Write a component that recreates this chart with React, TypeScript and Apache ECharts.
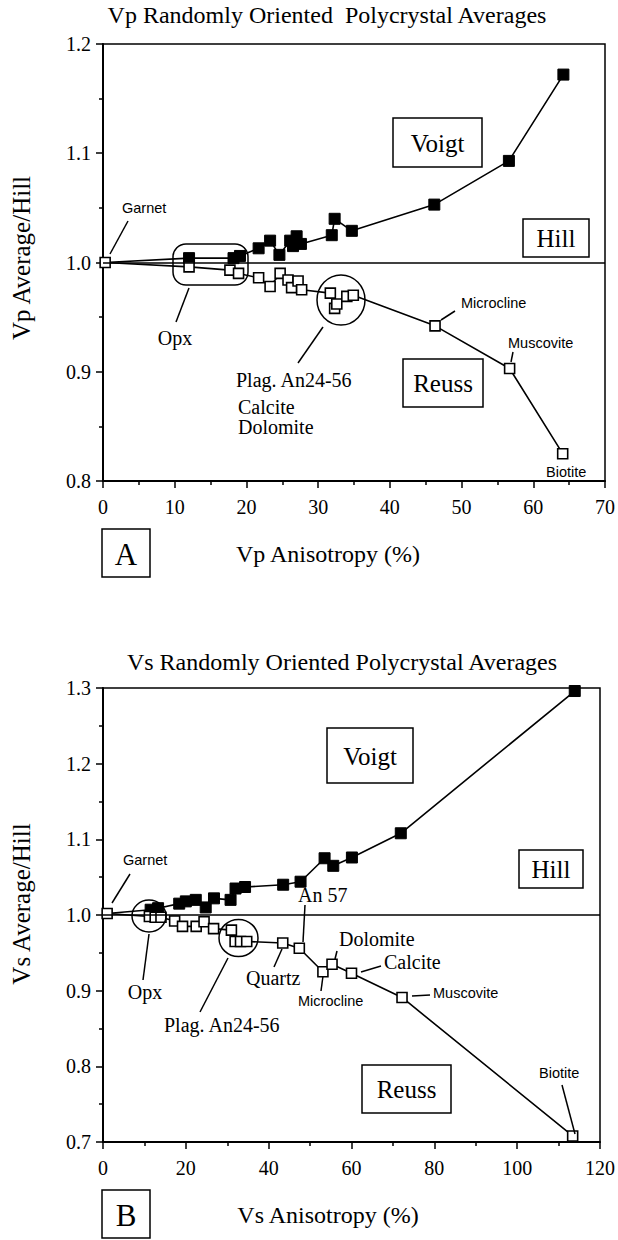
import React, { useEffect, useRef } from "react";
import * as echarts from "echarts";

// ---- Data: Vp (panel A) ----
const vpVoigtX = [0.3, 12.0, 18.2, 19.1, 21.7, 23.3, 24.6, 26.1, 26.5, 27.0, 27.6, 31.9, 32.3, 34.7, 46.2, 56.6, 64.2];
const vpVoigtY = [1.0, 1.004, 1.004, 1.006, 1.013, 1.02, 1.007, 1.02, 1.015, 1.024, 1.017, 1.025, 1.04, 1.029, 1.053, 1.093, 1.172];
const vpReussX = [0.3, 12.0, 17.7, 18.9, 21.7, 23.3, 24.7, 25.8, 26.3, 27.2, 27.7, 31.7, 32.3, 32.6, 34.0, 34.9, 46.3, 56.7, 64.1];
const vpReussY = [1.0, 0.996, 0.993, 0.99, 0.986, 0.978, 0.99, 0.984, 0.977, 0.983, 0.975, 0.972, 0.958, 0.962, 0.969, 0.97, 0.942, 0.903, 0.825];

// ---- Data: Vs (panel B) ----
const vsVoigtX = [1.0, 11.5, 13.3, 18.4, 20.0, 22.4, 24.8, 26.8, 30.8, 32.0, 34.3, 43.5, 47.7, 53.5, 55.6, 60.1, 71.9, 113.9];
const vsVoigtY = [1.002, 1.007, 1.009, 1.015, 1.018, 1.02, 1.01, 1.022, 1.02, 1.035, 1.037, 1.04, 1.044, 1.075, 1.065, 1.076, 1.108, 1.296];
const vsReussX = [1.0, 11.2, 12.6, 14.0, 17.3, 19.2, 22.5, 24.4, 26.7, 31.0, 31.9, 33.2, 34.7, 43.4, 47.4, 53.1, 55.3, 60.0, 72.2, 113.4];
const vsReussY = [1.002, 0.998, 0.997, 0.997, 0.992, 0.985, 0.985, 0.991, 0.982, 0.98, 0.965, 0.965, 0.965, 0.963, 0.956, 0.925, 0.935, 0.923, 0.891, 0.708];

// axis ranges [min, max, interval]
const vpXRange = [0, 70, 10];
const vpYRange = [0.8, 1.2, 0.1];
const vsXRange = [0, 120, 20];
const vsYRange = [0.7, 1.3, 0.1];
const hillValue = 1.0;

const SERIF = '"Liberation Serif", "Times New Roman", serif';
const SANS = '"Liberation Sans", Arial, sans-serif';

function pairs(xs: number[], ys: number[], hideFirst: boolean) {
  return xs.map((x, i) =>
    hideFirst && i === 0 ? { value: [x, ys[i]], symbol: "none", symbolSize: 0 } : { value: [x, ys[i]] }
  );
}

function txt(x: number, y: number, text: string, size: number, family: string, align = "left", rot = 0): any {
  return {
    type: "text",
    x,
    y,
    rotation: rot,
    style: {
      text,
      x: 0,
      y: 0,
      font: `${size}px ${family}`,
      fill: "#000",
      textAlign: align,
      textVerticalAlign: "middle",
    },
    z: 100,
  };
}
function box(x: number, y: number, w: number, h: number, r = 0): any {
  return {
    type: "rect",
    shape: { x, y, width: w, height: h, r },
    style: { fill: "none", stroke: "#000", lineWidth: 1.5 },
    z: 100,
  };
}
function seg(x1: number, y1: number, x2: number, y2: number): any {
  return {
    type: "line",
    shape: { x1, y1, x2, y2 },
    style: { stroke: "#000", lineWidth: 1.5 },
    z: 100,
  };
}
function ell(cx: number, cy: number, rx: number, ry: number): any {
  return {
    type: "ellipse",
    shape: { cx, cy, rx, ry },
    style: { fill: "none", stroke: "#000", lineWidth: 1.5 },
    z: 100,
  };
}

function xAxisCfg(gridIndex: number, r: number[]): any {
  return {
    type: "value",
    gridIndex,
    min: r[0],
    max: r[1],
    interval: r[2],
    axisLine: { show: true, onZero: false, lineStyle: { color: "#000", width: 2 } },
    axisTick: { show: true, length: 7, lineStyle: { color: "#000", width: 1.5 } },
    minorTick: { show: true, splitNumber: 2, length: 4, lineStyle: { color: "#000", width: 1.5 } },
    axisLabel: { color: "#000", fontFamily: SERIF, fontSize: 20, margin: 16 },
    splitLine: { show: false },
  };
}
function yAxisCfg(gridIndex: number, r: number[]): any {
  return {
    type: "value",
    gridIndex,
    min: r[0],
    max: r[1],
    interval: r[2],
    axisLine: { show: true, onZero: false, lineStyle: { color: "#000", width: 2 } },
    axisTick: { show: true, length: 7, lineStyle: { color: "#000", width: 1.5 } },
    minorTick: { show: true, splitNumber: 2, length: 4, lineStyle: { color: "#000", width: 1.5 } },
    axisLabel: {
      color: "#000",
      fontFamily: SERIF,
      fontSize: 20,
      margin: 12,
      formatter: (v: number) => v.toFixed(1),
    },
    splitLine: { show: false },
  };
}

function voigtSeries(xi: number, data: any[]): any {
  return {
    type: "line",
    xAxisIndex: xi,
    yAxisIndex: xi,
    data,
    symbol: "rect",
    symbolSize: 11,
    itemStyle: { color: "#000", borderColor: "#000", borderWidth: 1 },
    lineStyle: { color: "#000", width: 1.6 },
    z: 3,
    markLine: {
      silent: true,
      symbol: "none",
      label: { show: false },
      lineStyle: { color: "#000", width: 1.6, type: "solid" },
      data: [{ yAxis: hillValue }],
    },
  };
}
function reussSeries(xi: number, data: any[]): any {
  return {
    type: "line",
    xAxisIndex: xi,
    yAxisIndex: xi,
    data,
    symbol: "rect",
    symbolSize: 10,
    itemStyle: { color: "#fff", borderColor: "#000", borderWidth: 1.6 },
    lineStyle: { color: "#000", width: 1.6 },
    z: 4,
  };
}

export default function App() {
  const ref = useRef<HTMLDivElement>(null);
  useEffect(() => {
    if (!ref.current) return;
    const chart = echarts.init(ref.current, undefined, { renderer: "svg" });
    const graphic: any[] = [
      // ---------- Panel A ----------
      txt(327, 15, "Vp Randomly Oriented  Polycrystal Averages", 24, SERIF, "center"),
      txt(21, 258, "Vp Average/Hill", 25, SERIF, "center", Math.PI / 2),
      box(393, 118, 89, 49),
      txt(437.5, 143, "Voigt", 25, SERIF, "center"),
      box(523, 219, 66, 38),
      txt(556, 238, "Hill", 25, SERIF, "center"),
      box(403, 359, 80, 48),
      txt(443, 383, "Reuss", 25, SERIF, "center"),
      txt(122, 208, "Garnet", 14.5, SANS),
      seg(110, 254, 128, 221),
      box(173, 244, 75, 41, 13),
      seg(189, 288, 176, 322),
      txt(175, 338, "Opx", 20, SERIF, "center"),
      ell(341, 300, 24, 25),
      seg(323, 327, 298, 363),
      txt(236, 380, "Plag. An24-56", 20, SERIF),
      txt(238, 407, "Calcite", 20, SERIF),
      txt(238, 427, "Dolomite", 20, SERIF),
      seg(441, 320, 455, 311),
      txt(461, 303, "Microcline", 14.5, SANS),
      seg(511, 362, 513, 352),
      txt(508, 343, "Muscovite", 14.5, SANS),
      txt(546, 472, "Biotite", 14.5, SANS),
      box(102, 529, 48, 48),
      txt(126, 554, "A", 31, SERIF, "center"),
      txt(328, 554, "Vp Anisotropy (%)", 24, SERIF, "center"),

      // ---------- Panel B ----------
      txt(342, 662, "Vs Randomly Oriented Polycrystal Averages", 24, SERIF, "center"),
      txt(21, 904, "Vs Average/Hill", 25, SERIF, "center", Math.PI / 2),
      box(327, 728, 86, 55),
      txt(370, 756, "Voigt", 25, SERIF, "center"),
      box(519, 850, 64, 38),
      txt(551, 869, "Hill", 25, SERIF, "center"),
      box(362, 1065, 89, 48),
      txt(406.5, 1089, "Reuss", 25, SERIF, "center"),
      txt(123, 860, "Garnet", 14.5, SANS),
      seg(112, 903, 130, 874),
      ell(149, 916, 17, 16),
      seg(149, 934, 143, 980),
      txt(145, 992, "Opx", 20, SERIF, "center"),
      ell(238.5, 938, 19.5, 18.5),
      seg(228, 958, 200, 1012),
      txt(164, 1025, "Plag. An24-56", 20, SERIF),
      seg(282, 949, 274, 967),
      txt(246, 978, "Quartz", 20, SERIF),
      txt(298, 895, "An 57", 20, SERIF),
      seg(305, 905, 303, 942),
      txt(339, 939, "Dolomite", 20, SERIF),
      seg(337, 951, 335, 959),
      txt(384, 962, "Calcite", 20, SERIF),
      seg(381, 966, 361, 972),
      seg(323, 976, 321, 991),
      txt(298, 1001, "Microcline", 14.5, SANS),
      seg(430, 995, 412, 996),
      txt(433, 993, "Muscovite", 14.5, SANS),
      txt(539, 1073, "Biotite", 14.5, SANS),
      seg(562, 1085, 575, 1134),
      box(102, 1190, 48, 48),
      txt(126, 1215, "B", 31, SERIF, "center"),
      txt(328, 1215, "Vs Anisotropy (%)", 24, SERIF, "center"),
    ];

    chart.setOption({
      animation: false,
      backgroundColor: "#fff",
      grid: [
        { left: 103, top: 44, width: 502, height: 437, show: true, borderColor: "#000", borderWidth: 1.5, backgroundColor: "transparent" },
        { left: 103, top: 688, width: 502, height: 454, show: true, borderColor: "#000", borderWidth: 1.5, backgroundColor: "transparent" },
      ],
      xAxis: [xAxisCfg(0, vpXRange), xAxisCfg(1, vsXRange)],
      yAxis: [yAxisCfg(0, vpYRange), yAxisCfg(1, vsYRange)],
      series: [
        voigtSeries(0, pairs(vpVoigtX, vpVoigtY, true)),
        reussSeries(0, pairs(vpReussX, vpReussY, false)),
        voigtSeries(1, pairs(vsVoigtX, vsVoigtY, true)),
        reussSeries(1, pairs(vsReussX, vsReussY, false)),
      ],
      graphic,
    });
    return () => chart.dispose();
  }, []);
  return <div ref={ref} style={{ position: "absolute", left: 0, top: 0, width: 618, height: 1240 }} />;
}
